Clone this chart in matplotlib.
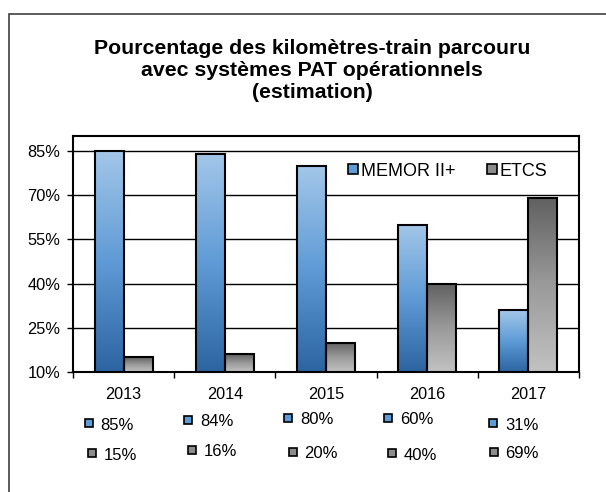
import numpy as np
import matplotlib
matplotlib.use('Agg')
import matplotlib.pyplot as plt
from matplotlib.patches import Rectangle
from matplotlib.lines import Line2D
from matplotlib.colors import LinearSegmentedColormap

plt.rcParams['font.family'] = ['Liberation Sans', 'DejaVu Sans']

# data
years = ['2013', '2014', '2015', '2016', '2017']
memor = [85, 84, 80, 60, 31]
etcs = [15, 16, 20, 40, 69]
yticks = [10, 25, 40, 55, 70, 85]
title = 'Pourcentage des kilomètres-train parcouru\navec systèmes PAT opérationnels\n(estimation)'

W, H = 606, 492
fig = plt.figure(figsize=(W / 100, H / 100), dpi=100)

# outer frame (cut off on the right and bottom like the original)
fig.patches.append(Rectangle((9 / W, -0.2), 1.2, 1 - 14 / H + 0.2, transform=fig.transFigure,
                             fill=False, edgecolor='#404040', linewidth=1.2))

fig.text(312 / W, 1 - 70 / H, title, ha='center', va='center', fontsize=15.3,
         fontweight='bold', linespacing=1.2)

ax = fig.add_axes([73 / W, 1 - 372 / H, 506 / W, 236 / H])

blue_cmap = LinearSegmentedColormap.from_list('b', ['#2c64a1', '#5f9bd6', '#a3c7e9'])
gray_cmap = LinearSegmentedColormap.from_list('g', ['#c2c2c2', '#9a9a9a', '#606060'])
grad = np.linspace(0, 1, 256).reshape(-1, 1)

x = np.arange(len(years))
w = 0.287
bars1 = ax.bar(x - w / 2, memor, w, bottom=0, color='none', edgecolor='black', linewidth=1.5, zorder=3)
bars2 = ax.bar(x + w / 2, etcs, w, bottom=0, color='none', edgecolor='black', linewidth=1.5, zorder=3)

for bars, cmap in [(bars1, blue_cmap), (bars2, gray_cmap)]:
    for b in bars:
        x0 = b.get_x()
        x1 = x0 + b.get_width()
        top = b.get_height()
        ax.imshow(grad, cmap=cmap, aspect='auto', origin='lower',
                  extent=[x0, x1, 10, top], zorder=2)

ax.set_xlim(-0.5, len(years) - 0.5)
ax.set_ylim(10, 90)
ax.set_yticks(yticks)
ax.set_yticklabels([f'{v}%' for v in yticks], fontsize=11.8)
ax.yaxis.grid(True, color='black', linewidth=1)
ax.set_axisbelow(True)
ax.tick_params(axis='y', length=4, width=1, pad=5)

ax.set_xticks(x)
ax.set_xticklabels(years, fontsize=11.7)
ax.set_xticks(np.arange(len(years) + 1) - 0.5, minor=True)
ax.tick_params(axis='x', which='major', length=0, pad=11)
ax.tick_params(axis='x', which='minor', length=4, width=1)
for s in ax.spines.values():
    s.set_linewidth(1.5)

handles = [Line2D([], [], marker='s', linestyle='none', markersize=7,
                  markerfacecolor='#5f9bd6', markeredgecolor='black', markeredgewidth=1.2),
           Line2D([], [], marker='s', linestyle='none', markersize=7,
                  markerfacecolor='#8c8c8c', markeredgecolor='black', markeredgewidth=1.2)]
fig.legend(handles, ['MEMOR II+', 'ETCS'], loc='center left',
           bbox_to_anchor=(339 / W, 1 - 171 / H), ncol=2, frameon=False, fontsize=13,
           handlelength=0.6, handletextpad=0.1, columnspacing=1.75, borderpad=0)

# table-like legend under the chart
mx1 = [88.5, 188, 288, 388, 493]
dy1 = [0, -3, -5, -5, 0]
mx2 = [91.6, 192, 292.6, 391.6, 493.6]
dy2 = [0, -3, -1, 0, -1]
for i in range(len(years)):
    for mx, yy, val, fc in [(mx1[i], 425 + dy1[i], memor[i], '#5f9bd6'),
                            (mx2[i], 455 + dy2[i], etcs[i], '#8c8c8c')]:
        fig.add_artist(Line2D([mx / W], [1 - (yy - 2) / H], marker='s', markersize=6,
                              markerfacecolor=fc, markeredgecolor='black', markeredgewidth=1.2,
                              transform=fig.transFigure))
        fig.text((mx + 12) / W, 1 - yy / H, f'{val}%', ha='left', va='center', fontsize=12)

fig.savefig('out.png', dpi=100)
